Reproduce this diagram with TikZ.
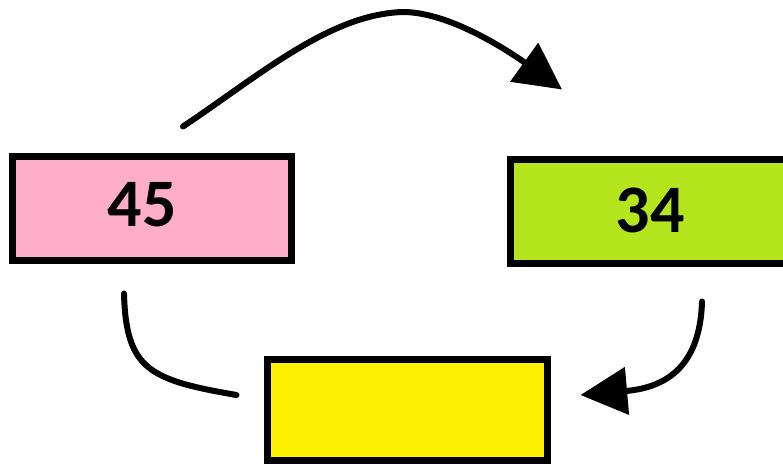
\documentclass[tikz,border=0pt]{standalone}
\usepackage{fontspec}
\setmainfont{Carlito}
\usepackage{tikz}
\usetikzlibrary{calc}
\usetikzlibrary{arrows.meta}
\definecolor{box-pink}{RGB}{255, 174, 201}
\definecolor{box-green}{RGB}{181, 230, 29}
\definecolor{box-yellow}{RGB}{255, 242, 0}

\begin{document}
\begin{tikzpicture}[x=0.03cm, y=-0.03cm,
    box/.style={draw, line width=0.21cm, minimum width=8.4cm, minimum height=3.12cm, inner sep=0pt},
    num/.style={inner sep=0pt, font=\fontsize{58}{60}\selectfont\bfseries},
    link/.style={line width=0.18cm, line cap=round},
    tip/.style={-{Triangle[length=1.4cm, width=1.4cm]}}]
          \useasboundingbox (0, 0) rectangle (783, 463);
          \clip (0, 0) rectangle (783, 463);

          \node[box, fill=box-pink, minimum width=8.37cm] (pink) at (152, 208.5) {};
          \node[box, fill=box-green] (green) at (650.5, 211.5) {};
          \node[box, fill=box-yellow, minimum height=3.02cm] (yellow) at (407.5, 410) {};

          \node[num] (n45) at (142, 205) {45};
          \node[num] (n34) at (650, 210) {34};

          \coordinate (a) at ($(pink.north) + (31, -26.5)$);
          \coordinate (b) at ($(green.north) + (-88.5, -66.5)$);
          \coordinate (c) at ($(pink.south) + (-28, 29.5)$);
          \coordinate (d) at ($(yellow.west) + (-27.5, -15)$);
          \coordinate (e) at ($(green.south) + (51.5, 34.5)$);
          \coordinate (f) at ($(yellow.east) + (29.5, -15)$);

          \draw[link, tip] (a) .. controls (260, 75) and (330, 14) .. (403, 12)
            .. controls (450, 12) and (510, 52) .. (b);
          \draw[link] (c) .. controls (126, 370) and (150, 380) .. (d);
          \draw[link, tip] (e) .. controls (700, 372) and (660, 388) .. (f);

        \end{tikzpicture}
\end{document}
